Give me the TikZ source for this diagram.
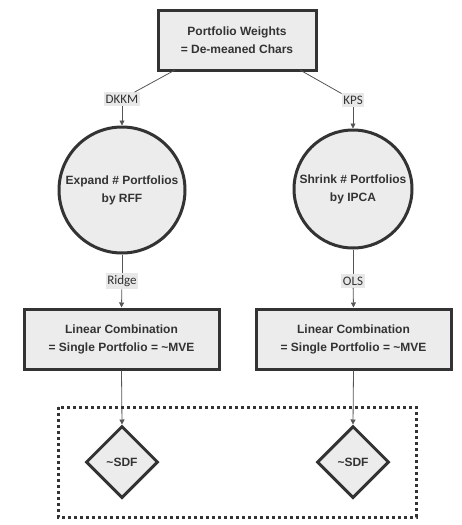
\documentclass[tikz,border=0pt]{standalone}
\usepackage{fontspec}
\setmainfont{Liberation Sans}
\newfontfamily\labelfont{Carlito}
\usetikzlibrary{shapes.geometric,arrows.meta}

\definecolor{ink}{HTML}{333333}
\definecolor{nodefill}{HTML}{ECECEC}
\definecolor{wire}{HTML}{555555}
\definecolor{tagfill}{HTML}{E8E8E8}

\begin{document}
\begin{tikzpicture}[x=1pt,y=-1pt,
  nodetext/.style={font=\fontsize{12}{18}\selectfont\bfseries, text=ink, align=center},
  box/.style={nodetext, draw=ink, fill=nodefill, line width=3pt, minimum height=60pt, inner sep=0pt},
  disc/.style={nodetext, circle, draw=ink, fill=nodefill, line width=3pt, inner sep=0pt},
  gem/.style={nodetext, diamond, draw=ink, fill=nodefill, line width=3pt, inner sep=0pt, minimum width=72pt, minimum height=72pt},
  tag/.style={font=\labelfont\fontsize{13}{15}\selectfont, text=ink, fill=tagfill, inner xsep=1.5pt, inner ysep=2.5pt},
  conn/.style={draw=wire, line width=0.8pt},
  arrow/.style={conn, -{Triangle[length=5pt,width=5pt]}},
  group/.style={draw=ink, line width=3pt, dash pattern=on 3pt off 3pt}
]
\useasboundingbox (0,0) rectangle (462,525);

% source of both branches
\node[box, minimum width=158pt] (weights) at (237,40) {Portfolio Weights\\= De-meaned Chars};

% left branch: random Fourier features, ridge
\node[disc, minimum size=126pt] (rff) at (122,190) {Expand \# Portfolios\\by RFF};
\node[box, minimum width=195pt] (mveL) at (121.5,339) {Linear Combination\\= Single Portfolio = \textasciitilde MVE};
\node[gem] (sdfL) at (122,462) {\textasciitilde SDF};

% right branch: IPCA, OLS
\node[disc, minimum size=118pt] (ipca) at (353,189) {Shrink \# Portfolios\\by IPCA};
\node[box, minimum width=195pt] (mveR) at (353.5,339) {Linear Combination\\= Single Portfolio = \textasciitilde MVE};
\node[gem] (sdfR) at (353,462) {\textasciitilde SDF};

% edge labels
\node[tag] (dkkm) at (122,99) {DKKM};
\node[tag] (kps) at (353,100) {KPS};
\node[tag] (ridge) at (122,281) {Ridge};
\node[tag] (ols) at (353,281) {OLS};

% where the two edges leave the top box
\coordinate (outL) at (175,70);
\coordinate (outR) at (300,70);

% connectors
\draw[conn] (outL) -- (dkkm);
\draw[arrow] (dkkm) -- (rff.north);
\draw[conn] (outR) -- (kps);
\draw[arrow] (kps) -- (ipca.north);

\draw[conn] (rff.south) -- (ridge);
\draw[arrow] (ridge) -- (mveL.north);
\draw[conn] (ipca.south) -- (ols);
\draw[arrow] (ols) -- (mveR.north);

\draw[arrow] (mveL.south) -- (sdfL.north);
\draw[arrow] (mveR.south) -- (sdfR.north);

% dotted group around the two SDF nodes
\draw[group] (58,407) rectangle (416,517);
\end{tikzpicture}
\end{document}
